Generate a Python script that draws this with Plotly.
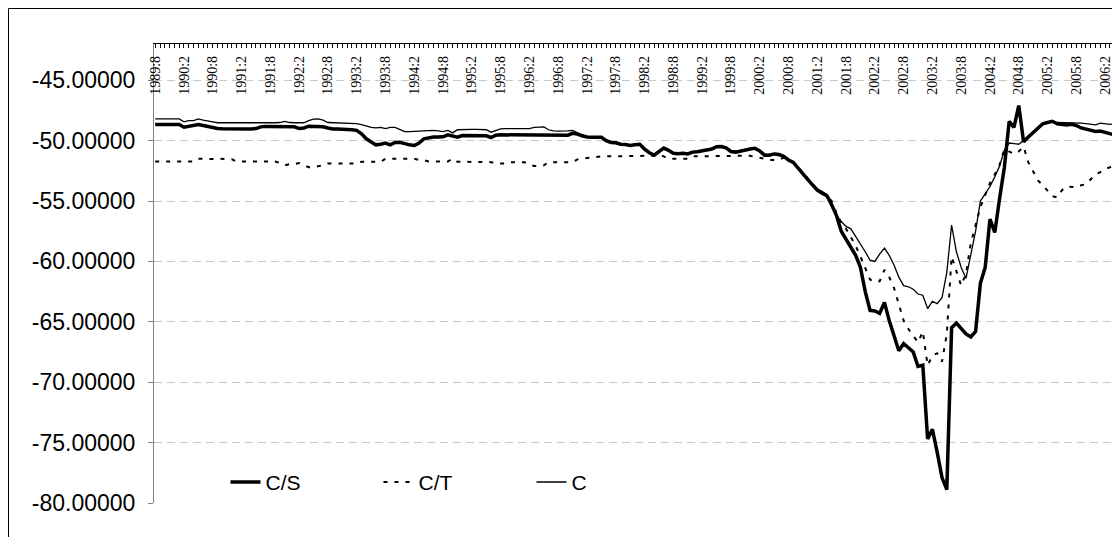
import plotly.graph_objects as go

# Monthly observations starting 1989:8
CS = [
    -48.67, -48.67, -48.67, -48.67, -48.67, -48.67, -48.89, -48.80, -48.78, -48.67,
    -48.75, -48.85, -48.95, -49.00, -49.02, -49.03, -49.03, -49.03, -49.02, -49.03,
    -49.03, -49.00, -48.86, -48.82, -48.82, -48.80, -48.82, -48.82, -48.82, -48.85,
    -49.00, -48.95, -48.80, -48.80, -48.80, -48.85, -48.95, -49.03, -49.03, -49.03,
    -49.05, -49.10, -49.15, -49.44, -49.85, -50.10, -50.35, -50.30, -50.20, -50.35,
    -50.15, -50.13, -50.25, -50.35, -50.40, -50.20, -49.85, -49.75, -49.70, -49.70,
    -49.68, -49.52, -49.63, -49.71, -49.58, -49.58, -49.56, -49.58, -49.58, -49.60,
    -49.74, -49.55, -49.52, -49.52, -49.52, -49.52, -49.52, -49.55, -49.58, -49.58,
    -49.58, -49.58, -49.58, -49.58, -49.58, -49.58, -49.55, -49.40, -49.45, -49.60,
    -49.70, -49.71, -49.71, -49.72, -50.00, -50.15, -50.18, -50.30, -50.32, -50.40,
    -50.35, -50.30, -50.70, -51.00, -51.20, -50.90, -50.62, -50.80, -51.05, -51.08,
    -51.05, -51.10, -50.95, -50.92, -50.85, -50.82, -50.70, -50.50, -50.49, -50.60,
    -50.90, -50.95, -50.85, -50.80, -50.70, -50.63, -50.85, -51.20, -51.20, -51.10,
    -51.15, -51.30, -51.60, -51.80, -52.30, -52.75, -53.20, -53.66, -54.10, -54.35,
    -54.55, -55.30, -56.20, -57.50, -58.20, -58.80, -59.50, -60.50, -62.50, -64.05,
    -64.10, -64.30, -63.40, -64.90, -66.20, -67.40, -66.80, -67.20, -67.50, -68.70,
    -68.60, -74.70, -73.90, -75.80, -77.90, -78.90, -65.50, -65.10, -65.60, -66.00,
    -66.25, -65.80, -61.80, -60.50, -56.50, -57.60, -54.80, -52.20, -48.40, -48.90,
    -47.10, -50.10, -49.70, -49.30, -49.00, -48.60, -48.50, -48.40, -48.60, -48.65,
    -48.70, -48.65, -48.75, -48.95, -49.05, -49.20, -49.25, -49.20, -49.30, -49.45,
    -49.50, -49.64, -49.75,
]

CT = [
    -51.73, -51.73, -51.73, -51.73, -51.73, -51.73, -51.73, -51.73, -51.73, -51.50,
    -51.52, -51.55, -51.52, -51.50, -51.52, -51.55, -51.55, -51.73, -51.73, -51.73,
    -51.73, -51.73, -51.73, -51.73, -51.73, -51.73, -51.85, -52.05, -51.95, -51.95,
    -51.85, -52.05, -52.20, -52.20, -52.15, -52.05, -51.90, -51.90, -51.90, -51.90,
    -51.90, -51.90, -51.90, -51.75, -51.75, -51.75, -51.75, -51.75, -51.50, -51.50,
    -51.50, -51.50, -51.50, -51.45, -51.50, -51.60, -51.62, -51.73, -51.73, -51.73,
    -51.73, -51.73, -51.50, -51.75, -51.75, -51.75, -51.75, -51.78, -51.78, -51.78,
    -51.78, -51.90, -51.90, -51.90, -51.80, -51.80, -51.80, -51.80, -52.00, -52.10,
    -52.11, -52.05, -51.78, -51.78, -51.78, -51.78, -51.78, -51.78, -51.55, -51.50,
    -51.40, -51.35, -51.30, -51.30, -51.30, -51.30, -51.30, -51.30, -51.30, -51.30,
    -51.30, -51.30, -51.30, -51.30, -51.25, -51.17, -51.30, -51.50, -51.50, -51.50,
    -51.50, -51.50, -51.30, -51.30, -51.30, -51.30, -51.30, -51.30, -51.30, -51.30,
    -51.30, -51.30, -51.25, -51.25, -51.25, -51.35, -51.40, -51.50, -51.60, -51.60,
    -51.60, -51.40, -51.60, -51.80, -52.20, -52.70, -53.10, -53.60, -54.00, -54.30,
    -54.60, -55.00, -56.00, -56.80, -57.30, -58.00, -58.70, -59.60, -60.50, -61.50,
    -61.70, -61.65, -60.70, -61.30, -62.20, -63.60, -64.90, -65.60, -66.10, -66.70,
    -65.80, -68.60, -67.80, -67.60, -68.30, -66.00, -59.60, -60.80, -62.00, -61.00,
    -58.50, -57.00, -55.50, -54.50, -53.50, -52.80, -52.00, -50.70, -50.90, -51.10,
    -50.90, -50.50, -51.80, -52.60, -53.30, -53.70, -54.20, -54.60, -54.70, -54.10,
    -53.80, -53.80, -53.85, -53.70, -53.60, -53.20, -52.80, -52.60, -52.35, -52.20,
    -52.00, -51.80, -51.65,
]

C = [
    -48.20, -48.20, -48.20, -48.20, -48.20, -48.20, -48.45, -48.35, -48.35, -48.20,
    -48.30, -48.40, -48.45, -48.52, -48.50, -48.52, -48.52, -48.52, -48.50, -48.52,
    -48.52, -48.52, -48.50, -48.52, -48.52, -48.52, -48.50, -48.40, -48.50, -48.52,
    -48.52, -48.52, -48.35, -48.22, -48.20, -48.30, -48.50, -48.52, -48.52, -48.52,
    -48.55, -48.58, -48.60, -48.67, -48.80, -48.90, -48.95, -48.90, -49.00, -48.90,
    -48.90, -49.05, -49.25, -49.25, -49.22, -49.20, -49.20, -49.15, -49.15, -49.20,
    -49.25, -49.15, -49.36, -49.10, -49.07, -49.07, -49.07, -49.07, -49.07, -49.10,
    -49.30, -49.15, -49.02, -49.00, -49.00, -49.00, -49.00, -49.00, -49.00, -48.90,
    -48.86, -48.86, -49.10, -49.20, -49.22, -49.22, -49.20, -49.15, -49.35, -49.55,
    -49.65, -49.68, -49.68, -49.70, -49.95, -50.10, -50.15, -50.25, -50.28, -50.35,
    -50.30, -50.28, -50.65, -50.95, -51.15, -50.88, -50.60, -50.75, -51.00, -51.05,
    -51.02, -51.05, -50.92, -50.90, -50.82, -50.80, -50.68, -50.48, -50.46, -50.55,
    -50.85, -50.90, -50.80, -50.76, -50.66, -50.60, -50.80, -51.15, -51.15, -51.05,
    -51.10, -51.25, -51.55, -51.75, -52.25, -52.70, -53.15, -53.60, -54.00, -54.20,
    -54.50, -55.50, -56.20, -56.70, -57.10, -57.30, -57.90, -58.60, -59.20, -59.90,
    -60.00, -59.40, -58.90, -59.50, -60.30, -61.30, -62.00, -62.10, -62.30, -62.70,
    -62.80, -63.90, -63.30, -63.50, -63.00, -60.90, -57.00, -59.20, -60.50, -61.40,
    -59.50, -57.50, -55.00, -54.40, -53.80, -53.00, -52.10, -50.80, -50.20, -50.25,
    -50.30, -50.00, -49.60, -49.30, -48.90, -48.60, -48.50, -48.40, -48.50, -48.50,
    -48.55, -48.50, -48.55, -48.55, -48.60, -48.65, -48.70, -48.55, -48.60, -48.65,
    -48.60, -48.65, -48.65,
]

X_LABELS = [
    "1989:8", "1990:2", "1990:8", "1991:2", "1991:8", "1992:2", "1992:8", "1993:2",
    "1993:8", "1994:2", "1994:8", "1995:2", "1995:8", "1996:2", "1996:8", "1997:2",
    "1997:8", "1998:2", "1998:8", "1999:2", "1999:8", "2000:2", "2000:8", "2001:2",
    "2001:8", "2002:2", "2002:8", "2003:2", "2003:8", "2004:2", "2004:8", "2005:2",
    "2005:8", "2006:2",
]
LABEL_EVERY = 6

Y_TICKS = [-80, -75, -70, -65, -60, -55, -50, -45]
Y_LABELS = ["-80.00000", "-75.00000", "-70.00000", "-65.00000",
            "-60.00000", "-55.00000", "-50.00000", "-45.00000"]

n = len(CS)
xs = list(range(n))
tickvals = list(range(n))
ticktext = []
for i in tickvals:
    if i % LABEL_EVERY == 0 and i // LABEL_EVERY < len(X_LABELS):
        ticktext.append(X_LABELS[i // LABEL_EVERY])
    else:
        ticktext.append("")

fig = go.Figure()
fig.add_trace(go.Scatter(x=xs, y=CS, mode="lines", name="C/S",
                         line=dict(color="black", width=3.5)))
fig.add_trace(go.Scatter(x=xs, y=CT, mode="lines", name="C/T",
                         line=dict(color="black", width=2, dash="4px,7px")))
fig.add_trace(go.Scatter(x=xs, y=C, mode="lines", name="C",
                         line=dict(color="black", width=1.3)))

W, H = 1112, 529
L, T, B = 146, 36, 34
plot_w = W - L
plot_h = H - T - B

fig.update_layout(
    width=W, height=H,
    margin=dict(l=L, r=0, t=T, b=B, pad=0),
    plot_bgcolor="white", paper_bgcolor="white",
    showlegend=True,
    legend=dict(orientation="h", x=0.074, y=0.045, xanchor="left", yanchor="middle",
                entrywidth=108, entrywidthmode="pixels",
                font=dict(family="Liberation Sans", size=21, color="black"),
                bgcolor="rgba(0,0,0,0)", traceorder="normal"),
    xaxis=dict(range=[-0.25, 201.1], side="top", showline=True, linecolor="black",
               linewidth=1, ticks="inside", ticklen=4, tickcolor="black",
               tickmode="array", tickvals=tickvals, ticktext=ticktext,
               tickangle=-90, ticklabelposition="inside", ticklabeloverflow="allow",
               tickfont=dict(family="Liberation Serif", size=14, color="black"),
               showgrid=False, zeroline=False),
    yaxis=dict(range=[-80, -42], tickmode="array", tickvals=Y_TICKS, ticktext=Y_LABELS,
               showline=True, linecolor="#808080", linewidth=1, ticks="outside",
               ticklen=5, tickcolor="#808080", showgrid=True, gridcolor="#c8c8c8",
               griddash="8px,5px", gridwidth=1, zeroline=False, ticklabelstandoff=8,
               tickfont=dict(family="Liberation Sans", size=23, color="black")),
    shapes=[dict(type="rect", xref="paper", yref="paper",
                 x0=-(L - 0.5) / plot_w, x1=1.2, y0=-0.3,
                 y1=(plot_h + T - 0.5) / plot_h,
                 line=dict(color="black", width=1), layer="above")],
)

fig.write_html("out.html")
